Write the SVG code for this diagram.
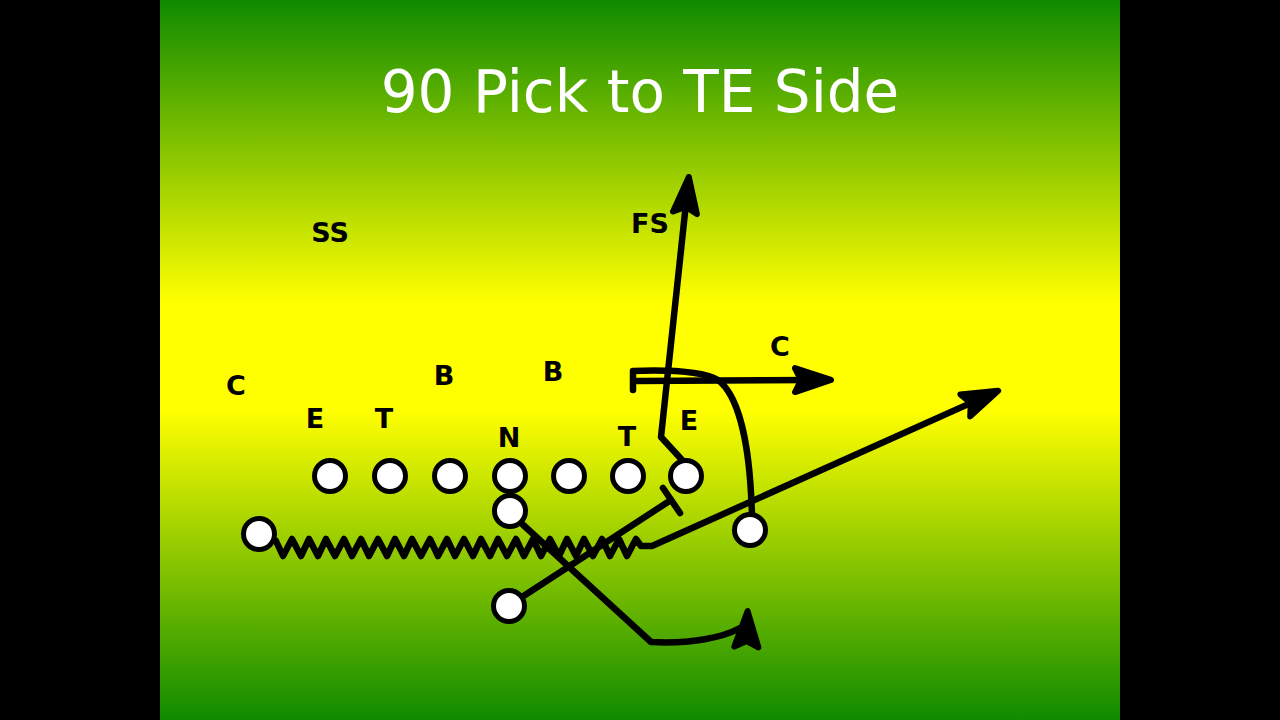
<svg xmlns="http://www.w3.org/2000/svg" width="1280" height="720" viewBox="0 0 1280 720">
  <defs>
    <linearGradient id="bg" x1="0" y1="0" x2="0" y2="1">
      <stop offset="0" stop-color="#0f8a00"/>
      <stop offset="0.42" stop-color="#ffff00"/>
      <stop offset="0.57" stop-color="#ffff00"/>
      <stop offset="1" stop-color="#0f8a00"/>
    </linearGradient>
    <marker id="arrow" markerUnits="userSpaceOnUse" viewBox="-24 -18 48 36" markerWidth="48" markerHeight="36" refX="0" refY="0" orient="auto">
      <path d="M18,0 L-18,-12 L-12,0 L-18,12 Z" fill="#000" stroke="#000" stroke-width="6" stroke-linejoin="round"/>
    </marker>
    <marker id="arrowUp" markerUnits="userSpaceOnUse" viewBox="-24 -18 48 36" markerWidth="48" markerHeight="36" refX="0" refY="0" orient="-88">
      <path d="M18,0 L-18,-12 L-12,0 L-18,12 Z" fill="#000" stroke="#000" stroke-width="6" stroke-linejoin="round"/>
    </marker>
    <style>
      .player { fill: #fff; stroke: #000; stroke-width: 5; }
      .lbl { font-family: "DejaVu Sans", "Liberation Sans", sans-serif; font-weight: bold; font-size: 27px; fill: #000; text-anchor: middle; }
      .route { fill: none; stroke: #000; stroke-width: 6.5; stroke-linecap: round; stroke-linejoin: round; }
      .title { font-family: "DejaVu Sans", "Liberation Sans", sans-serif; font-size: 58px; fill: #fff; text-anchor: middle; }
    </style>
  </defs>

  <rect x="0" y="0" width="1280" height="720" fill="#000"/>
  <rect x="160" y="0" width="960" height="720" fill="url(#bg)"/>

  <text class="title" x="640" y="112">90 Pick to TE Side</text>

  <g id="connectors">
    <!-- motion / zigzag to flat arrow -->
    <path class="route" d="M276,541 L283,556 L292,539 L301,556 L309,539 L318,556 L326,539 L335,556 L344,539 L352,556 L361,539 L369,556 L378,539 L387,556 L395,539 L404,556 L412,539 L421,556 L430,539 L438,556 L447,539 L455,556 L464,539 L473,556 L481,539 L490,556 L498,539 L507,556 L516,539 L524,556 L533,539 L541,556 L550,539 L559,556 L567,539 L576,556 L584,539 L593,556 L602,539 L610,556 L619,539 L627,556 L636,539 L641,546 L652,546 L981.7,398.1" marker-end="url(#arrow)"/>
    <!-- FS route from TE -->
    <path class="route" d="M683,461 L661,437 L686.9,194.9" marker-end="url(#arrow)"/>
    <!-- wing route: up, curl back, then out -->
    <path class="route" d="M752,514 L751,493 C 748,440 738,395 718,380 C 700,370 660,370 633,371 L633,390"/>
    <path class="route" d="M637,381 L813,380" marker-end="url(#arrow)"/>
    <!-- QB/back route -->
    <path class="route" d="M520,522 L651,642 C 690,644 722,638 740,628 L747,629" marker-end="url(#arrowUp)"/>
    <!-- fullback block -->
    <path class="route" d="M522,597 L671,500"/>
    <path class="route" d="M663,488 L680,513"/>
  </g>

  <g id="offense">
    <circle id="p1" class="player" cx="330" cy="476" r="15.5"/>
    <circle id="p2" class="player" cx="390" cy="476" r="15.5"/>
    <circle id="p3" class="player" cx="450" cy="476" r="15.5"/>
    <circle id="p4" class="player" cx="510" cy="476" r="15.5"/>
    <circle id="p5" class="player" cx="569" cy="476" r="15.5"/>
    <circle id="p6" class="player" cx="628" cy="476" r="15.5"/>
    <circle id="p7" class="player" cx="686" cy="476" r="15.5"/>
    <circle id="qb" class="player" cx="510" cy="511" r="15.5"/>
    <circle id="split" class="player" cx="259" cy="534" r="15.5"/>
    <circle id="back" class="player" cx="509" cy="606" r="15.5"/>
    <circle id="wing" class="player" cx="750" cy="530" r="15.5"/>
  </g>

  <g id="defense">
    <text id="d-ss" class="lbl" x="330" y="242">SS</text>
    <text id="d-fs" class="lbl" x="650" y="233">FS</text>
    <text id="d-c2" class="lbl" x="780" y="356">C</text>
    <text id="d-c1" class="lbl" x="236" y="395">C</text>
    <text id="d-e1" class="lbl" x="315" y="428">E</text>
    <text id="d-t1" class="lbl" x="384" y="428">T</text>
    <text id="d-b1" class="lbl" x="444" y="385">B</text>
    <text id="d-b2" class="lbl" x="553" y="381">B</text>
    <text id="d-n" class="lbl" x="509" y="447">N</text>
    <text id="d-t2" class="lbl" x="627" y="446">T</text>
    <text id="d-e2" class="lbl" x="689" y="430">E</text>
  </g>
</svg>
